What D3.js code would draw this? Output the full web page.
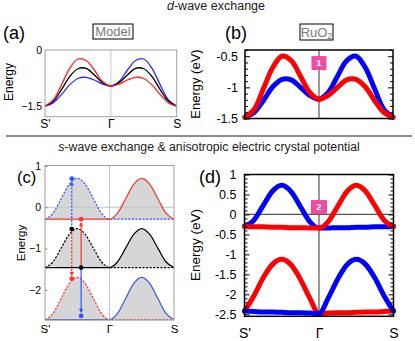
<!DOCTYPE html>
<html><head><meta charset="utf-8">
<script src="https://cdn.jsdelivr.net/npm/d3@7"></script>
<style>
body{margin:0;background:#fff}
svg{display:block;font-family:"Liberation Sans",Arial,Helvetica,sans-serif}
</style>
</head><body>
<svg id="chart" width="415" height="341"></svg>
<script>
// ---------- data ----------
const kGrid = [-1,-0.875,-0.75,-0.625,-0.5,-0.375,-0.25,-0.125,0,0.125,0.25,0.375,0.5,0.625,0.75,0.875,1];
const kTickPos = [-1,0,1];
const kTickLabels = ["S'","Γ","S"];

// (a) model, d-wave
const aRed   = [-1.5,-1.33,-0.93,-0.49,-0.24,-0.28,-0.54,-0.84,-0.96,-0.91,-0.80,-0.73,-0.76,-0.93,-1.19,-1.41,-1.5];
const aBlack = [-1.5,-1.37,-1.06,-0.71,-0.50,-0.49,-0.67,-0.87,-0.96,-0.87,-0.67,-0.49,-0.50,-0.71,-1.06,-1.37,-1.5];
const aBlue  = [-1.5,-1.41,-1.19,-0.93,-0.76,-0.73,-0.80,-0.91,-0.96,-0.84,-0.54,-0.28,-0.24,-0.49,-0.93,-1.33,-1.5];
const aTickValues = [0,-1.5];
const aTickLabels = ["0","−1.5"];

// (b) RuO2, d-wave
const bRed  = [-1.48,-1.35,-1.02,-0.68,-0.50,-0.57,-0.82,-1.08,-1.19,-1.13,-1.00,-0.88,-0.87,-0.99,-1.21,-1.40,-1.48];
const bBlue = [-1.48,-1.40,-1.21,-0.99,-0.87,-0.88,-1.00,-1.13,-1.19,-1.08,-0.82,-0.57,-0.50,-0.68,-1.02,-1.35,-1.48];
const bTickValues = [-0.5,-1,-1.5];
const bTickLabels = ["-0.5","-1","-1.5"];
const bMinorTicks = [-0.4,-0.6,-0.7,-0.8,-0.9,-1.1,-1.2,-1.3,-1.4];

// (c) model, s-wave + anisotropic potential
const cBaselines = [-0.29,-1.46,-2.72];
const cTopBlueDashed  = [-0.29,-0.145,0.205,0.555,0.70,0.555,0.205,-0.145,-0.29,-0.29,-0.29,-0.29,-0.29,-0.29,-0.29,-0.29,-0.29];
const cTopRedSolid    = [-0.29,-0.29,-0.29,-0.29,-0.29,-0.29,-0.29,-0.29,-0.29,-0.145,0.205,0.555,0.70,0.555,0.205,-0.145,-0.29];
const cMidBlackDashed = [-1.46,-1.32,-0.99,-0.66,-0.52,-0.66,-0.99,-1.32,-1.46,-1.46,-1.46,-1.46,-1.46,-1.46,-1.46,-1.46,-1.46];
const cMidBlackSolid  = [-1.46,-1.46,-1.46,-1.46,-1.46,-1.46,-1.46,-1.46,-1.46,-1.32,-0.99,-0.66,-0.52,-0.66,-0.99,-1.32,-1.46];
const cBotRedDashed   = [-2.72,-2.57,-2.21,-1.85,-1.70,-1.85,-2.21,-2.57,-2.72,-2.72,-2.72,-2.72,-2.72,-2.72,-2.72,-2.72,-2.72];
const cBotBlueSolid   = [-2.72,-2.72,-2.72,-2.72,-2.72,-2.72,-2.72,-2.72,-2.72,-2.57,-2.21,-1.85,-1.70,-1.85,-2.21,-2.57,-2.72];
const cTickValues = [1,0,-1,-2];
const cTickLabels = ["1","0","−1","−2"];
const cArrowK    = [-0.585,-0.585,-0.44,-0.44];
const cArrowFrom = [-0.53,-0.53,-1.46,-1.46];
const cArrowTo   = [0.69,-1.73,-0.29,-2.63];
const cArrowCol  = ["blue","red","red","blue"];
const cArrowDash = [true,true,false,false];
const cBlackDotK = [-0.585,-0.44];
const cBlackDotE = [-0.53,-1.46];

// (d) RuO2, s-wave + anisotropic potential
const dUpperBlue = [-0.30,-0.15,0.22,0.58,0.73,0.57,0.20,-0.18,-0.34,-0.34,-0.33,-0.33,-0.32,-0.32,-0.31,-0.31,-0.30];
const dUpperRed  = [-0.30,-0.31,-0.31,-0.32,-0.32,-0.33,-0.33,-0.34,-0.34,-0.18,0.20,0.57,0.73,0.58,0.22,-0.15,-0.30];
const dLowerRed  = [-2.42,-2.04,-1.59,-1.25,-1.12,-1.26,-1.62,-2.09,-2.48,-2.47,-2.46,-2.46,-2.45,-2.44,-2.44,-2.43,-2.42];
const dLowerBlue = [-2.42,-2.43,-2.44,-2.44,-2.45,-2.46,-2.46,-2.47,-2.48,-2.09,-1.62,-1.26,-1.12,-1.25,-1.59,-2.04,-2.42];
const dTickValues = [1,0.5,0,-0.5,-1,-1.5,-2,-2.5];
const dTickLabels = ["1","0.5","0","-0.5","-1","-1.5","-2","-2.5"];
const dMinorTicks = [0.9,0.8,0.7,0.6,0.4,0.3,0.2,0.1,-0.1,-0.2,-0.3,-0.4,-0.6,-0.7,-0.8,-0.9,-1.1,-1.2,-1.3,-1.4,-1.6,-1.7,-1.8,-1.9,-2.1,-2.2,-2.3,-2.4];

// badges
const badgeLabels = ["1","2"];
const badgeE = [-0.61,0.185];

// ---------- drawing ----------
const svg = d3.select("#chart");
const RED = "#ff0000", BLUE = "#0000ff";

// titles
const t1 = svg.append("text").attr("x",216).attr("y",9.5).attr("text-anchor","middle")
  .attr("font-size",12.5).attr("fill","#222");
t1.append("tspan").attr("font-style","italic").text("d");
t1.append("tspan").text("-wave exchange");
svg.append("line").attr("x1",6).attr("x2",412).attr("y1",136).attr("y2",136)
  .attr("stroke","#666").attr("stroke-width",1.5);
const t2 = svg.append("text").attr("x",209).attr("y",151).attr("text-anchor","middle")
  .attr("font-size",12.3).attr("fill","#222");
t2.append("tspan").attr("font-style","italic").text("s");
t2.append("tspan").text("-wave exchange & anisotropic electric crystal potential");

function panelLabel(x,y,s,fs){
  svg.append("text").attr("x",x).attr("y",y).attr("font-size",fs).attr("fill","#000").text(s);
}
panelLabel(3,39,"(a)",18); panelLabel(225,39,"(b)",18);
panelLabel(17,183,"(c)",16.5); panelLabel(199,183,"(d)",18);

function yLabel(x,y,s,fs){
  svg.append("text").attr("transform",`translate(${x},${y}) rotate(-90)`)
    .attr("text-anchor","middle").attr("font-size",fs).attr("fill","#000").text(s);
}
yLabel(12.5,82,"Energy",12);
yLabel(200,84,"Energy (eV)",13);
yLabel(25,243,"Energy",11.5);
yLabel(200,245,"Energy (eV)",13.5);

function boxLabel(x0,y0,w,h,txt,sub){
  svg.append("rect").attr("x",x0).attr("y",y0).attr("width",w).attr("height",h)
    .attr("fill","#fff").attr("stroke","#000").attr("stroke-width",1);
  const t = svg.append("text").attr("x",x0+w/2).attr("y",y0+h-3.5).attr("text-anchor","middle")
    .attr("font-size",13).attr("fill","#7a7a7a");
  t.append("tspan").text(txt);
  if(sub) t.append("tspan").attr("font-size",9).attr("dy",2).text(sub);
}
boxLabel(93,24,40,15,"Model");
boxLabel(300,24,33,16,"RuO","2");

function xLabels(g, x, y0, fs, pad){
  const ax = d3.axisBottom(x).tickValues(kTickPos).tickFormat((d,i)=>kTickLabels[i]).tickSize(0).tickPadding(pad);
  const gg = g.append("g").attr("transform",`translate(0,${y0})`).call(ax);
  gg.select(".domain").remove();
  gg.selectAll("text").attr("font-size",fs).attr("font-family",null).attr("fill","#000");
}

// ---- panel (a) ----
{
  const x = d3.scaleLinear([-1,1],[45,176.7]);
  const y = d3.scaleLinear([-1.78,0],[116.7,50]);
  const g = svg.append("g");
  g.append("line").attr("x1",x(0)).attr("x2",x(0)).attr("y1",y(-1.78)).attr("y2",y(0)).attr("stroke","#c8c8c8").attr("stroke-width",1);
  const line = d3.line().x((d,i)=>x(kGrid[i])).y(d=>y(d)).curve(d3.curveCatmullRom.alpha(0.5));
  [[aBlue,"#2b2bff"],[aBlack,"#000"],[aRed,"#ff2020"]].forEach(([arr,c])=>{
    g.append("path").attr("d",line(arr)).attr("fill","none").attr("stroke",c).attr("stroke-width",1.3);
  });
  g.append("rect").attr("x",45).attr("y",50).attr("width",176.7-45).attr("height",116.7-50)
    .attr("fill","none").attr("stroke","#a0a0a0").attr("stroke-width",1);
  const ay = d3.axisLeft(y).tickValues(aTickValues).tickFormat((d,i)=>aTickLabels[i]).tickSize(0).tickPadding(3);
  const gy = g.append("g").attr("transform","translate(45,0)").call(ay);
  gy.select(".domain").remove();
  gy.selectAll("text").attr("font-size",10.5).attr("font-family",null).attr("fill","#000");
  xLabels(g, x, 116.7, 12, 2.8);
}

// ---- panel (b) ----
{
  const x = d3.scaleLinear([-1,1],[245,393]);
  const y = d3.scaleLinear([-1.5,-0.4],[118.5,50]);
  const g = svg.append("g");
  g.append("line").attr("x1",x(0)).attr("x2",x(0)).attr("y1",50).attr("y2",118.5).attr("stroke","#555").attr("stroke-width",1.2);
  const line = d3.line().x((d,i)=>x(kGrid[i])).y(d=>y(d)).curve(d3.curveCatmullRom.alpha(0.5));
  [[bBlue,BLUE],[bRed,RED]].forEach(([arr,c])=>{
    g.append("path").attr("d",line(arr)).attr("fill","none").attr("stroke",c).attr("stroke-width",5).attr("stroke-linecap","round");
  });
  g.append("rect").attr("x",245).attr("y",50).attr("width",148).attr("height",68.5)
    .attr("fill","none").attr("stroke","#000").attr("stroke-width",1.5);
  const ay = d3.axisLeft(y).tickValues(bTickValues).tickFormat((d,i)=>bTickLabels[i]).tickSizeInner(-5).tickSizeOuter(0).tickPadding(7);
  const gy = g.append("g").attr("transform","translate(245,0)").call(ay);
  gy.select(".domain").remove();
  gy.selectAll("text").attr("font-size",12.5).attr("font-family",null).attr("fill","#000");
  const am = d3.axisLeft(y).tickValues(bMinorTicks).tickFormat("").tickSizeInner(-3).tickSizeOuter(0);
  g.append("g").attr("transform","translate(245,0)").call(am).select(".domain").remove();
  const ar = d3.axisRight(y).tickValues(bTickValues).tickFormat("").tickSizeInner(-5).tickSizeOuter(0);
  g.append("g").attr("transform","translate(393,0)").call(ar).select(".domain").remove();
  const arm = d3.axisRight(y).tickValues(bMinorTicks).tickFormat("").tickSizeInner(-3).tickSizeOuter(0);
  g.append("g").attr("transform","translate(393,0)").call(arm).select(".domain").remove();
  // badge 1
  g.append("rect").attr("x",x(0)-7.5).attr("y",y(badgeE[0])-7).attr("width",15).attr("height",14).attr("fill","#ef4b9f");
  g.append("text").attr("x",x(0)).attr("y",y(badgeE[0])+3.3).attr("text-anchor","middle").attr("font-size",9.5)
    .attr("font-weight","bold").attr("fill","#fff").text(badgeLabels[0]);
}

// ---- panel (c) ----
{
  const x = d3.scaleLinear([-1,1],[45,174]);
  const y = d3.scaleLinear([-2.73,1.01],[320,165.5]);
  const g = svg.append("g");
  const CB = "#2f55f5", CR = "#f5372f";
  const levels = [
    [cTopBlueDashed, CB, true, 0],[cTopRedSolid, CR, false, 0],
    [cMidBlackDashed, "#000", true, 1],[cMidBlackSolid, "#000", false, 1],
    [cBotRedDashed, CR, true, 2],[cBotBlueSolid, CB, false, 2]
  ];
  levels.forEach(([arr,c,dash,lv])=>{
    const area = d3.area().x((d,i)=>x(kGrid[i])).y0(y(cBaselines[lv])).y1(d=>y(d)).curve(d3.curveMonotoneX);
    g.append("path").attr("d",area(arr)).attr("fill","#d6d6d6");
  });
  g.append("line").attr("x1",45).attr("x2",174).attr("y1",y(0)).attr("y2",y(0)).attr("stroke","#c4c4c4").attr("stroke-width",1);
  g.append("line").attr("x1",x(0)).attr("x2",x(0)).attr("y1",165.5).attr("y2",320).attr("stroke","#c4c4c4").attr("stroke-width",1);
  const line = d3.line().x((d,i)=>x(kGrid[i])).y(d=>y(d)).curve(d3.curveMonotoneX);
  levels.forEach(([arr,c,dash])=>{
    g.append("path").attr("d",line(arr)).attr("fill","none").attr("stroke",c).attr("stroke-width",1.2)
      .attr("stroke-dasharray",dash?"2.2,1.4":null);
  });
  g.append("rect").attr("x",45).attr("y",165.5).attr("width",129).attr("height",154.5)
    .attr("fill","none").attr("stroke","#a0a0a0").attr("stroke-width",1);
  // transitions
  cArrowK.forEach((k,i)=>{
    const c = cArrowCol[i]==="blue"?CB:CR;
    const px = x(k), y0 = y(cArrowFrom[i]), y1 = y(cArrowTo[i]);
    const dir = y1<y0 ? 1 : -1;
    g.append("line").attr("x1",px).attr("x2",px).attr("y1",y0).attr("y2",y1+dir*4)
      .attr("stroke",c).attr("stroke-width",1.2).attr("stroke-dasharray",cArrowDash[i]?"2.2,1.4":null);
    const tip = y1+dir*2.5, base = y1+dir*7;
    g.append("path").attr("d",`M${px},${tip}L${px-2.2},${base}L${px+2.2},${base}Z`).attr("fill",c);
    g.append("circle").attr("cx",px).attr("cy",y1).attr("r",2.4).attr("fill",c);
  });
  cBlackDotK.forEach((k,i)=>{
    g.append("circle").attr("cx",x(k)).attr("cy",y(cBlackDotE[i])).attr("r",2.4).attr("fill","#000");
  });
  const ay = d3.axisLeft(y).tickValues(cTickValues).tickFormat((d,i)=>cTickLabels[i]).tickSizeInner(-2.5).tickSizeOuter(0).tickPadding(4);
  const gy = g.append("g").attr("transform","translate(45,0)").call(ay);
  gy.select(".domain").remove();
  gy.selectAll("line").attr("stroke","#888");
  gy.selectAll("text").attr("font-size",10.5).attr("font-family",null).attr("fill","#000");
  xLabels(g, x, 320, 11.5, 5);
}

// ---- panel (d) ----
{
  const x = d3.scaleLinear([-1,1],[244.5,393.5]);
  const y = d3.scaleLinear([-2.55,1],[316.3,174.5]);
  const g = svg.append("g");
  g.append("line").attr("x1",x(0)).attr("x2",x(0)).attr("y1",174.5).attr("y2",316.3).attr("stroke","#555").attr("stroke-width",1.2);
  g.append("line").attr("x1",244.5).attr("x2",393.5).attr("y1",y(0)).attr("y2",y(0)).attr("stroke","#555").attr("stroke-width",1.2);
  const line = d3.line().x((d,i)=>x(kGrid[i])).y(d=>y(d)).curve(d3.curveMonotoneX);
  [[dLowerRed,RED],[dLowerBlue,BLUE],[dUpperBlue,BLUE],[dUpperRed,RED]].forEach(([arr,c])=>{
    g.append("path").attr("d",line(arr)).attr("fill","none").attr("stroke",c).attr("stroke-width",5).attr("stroke-linecap","round");
  });
  g.append("rect").attr("x",244.5).attr("y",174.5).attr("width",149).attr("height",141.8)
    .attr("fill","none").attr("stroke","#000").attr("stroke-width",1.5);
  const ay = d3.axisLeft(y).tickValues(dTickValues).tickFormat((d,i)=>dTickLabels[i]).tickSizeInner(-5).tickSizeOuter(0).tickPadding(8);
  const gy = g.append("g").attr("transform","translate(244.5,0)").call(ay);
  gy.select(".domain").remove();
  gy.selectAll("text").attr("font-size",12.5).attr("font-family",null).attr("fill","#000");
  const am = d3.axisLeft(y).tickValues(dMinorTicks).tickFormat("").tickSizeInner(-3).tickSizeOuter(0);
  g.append("g").attr("transform","translate(244.5,0)").call(am).select(".domain").remove();
  const ar = d3.axisRight(y).tickValues(dTickValues).tickFormat("").tickSizeInner(-5).tickSizeOuter(0);
  g.append("g").attr("transform","translate(393.5,0)").call(ar).select(".domain").remove();
  const arm = d3.axisRight(y).tickValues(dMinorTicks).tickFormat("").tickSizeInner(-3).tickSizeOuter(0);
  g.append("g").attr("transform","translate(393.5,0)").call(arm).select(".domain").remove();
  // badge 2
  g.append("rect").attr("x",x(0)-8).attr("y",y(badgeE[1])-7).attr("width",16).attr("height",14).attr("fill","#ef4b9f");
  g.append("text").attr("x",x(0)).attr("y",y(badgeE[1])+3.3).attr("text-anchor","middle").attr("font-size",9.5)
    .attr("font-weight","bold").attr("fill","#fff").text(badgeLabels[1]);
  xLabels(g, x, 316.3, 14, 11.5);
}
</script>
</body></html>
